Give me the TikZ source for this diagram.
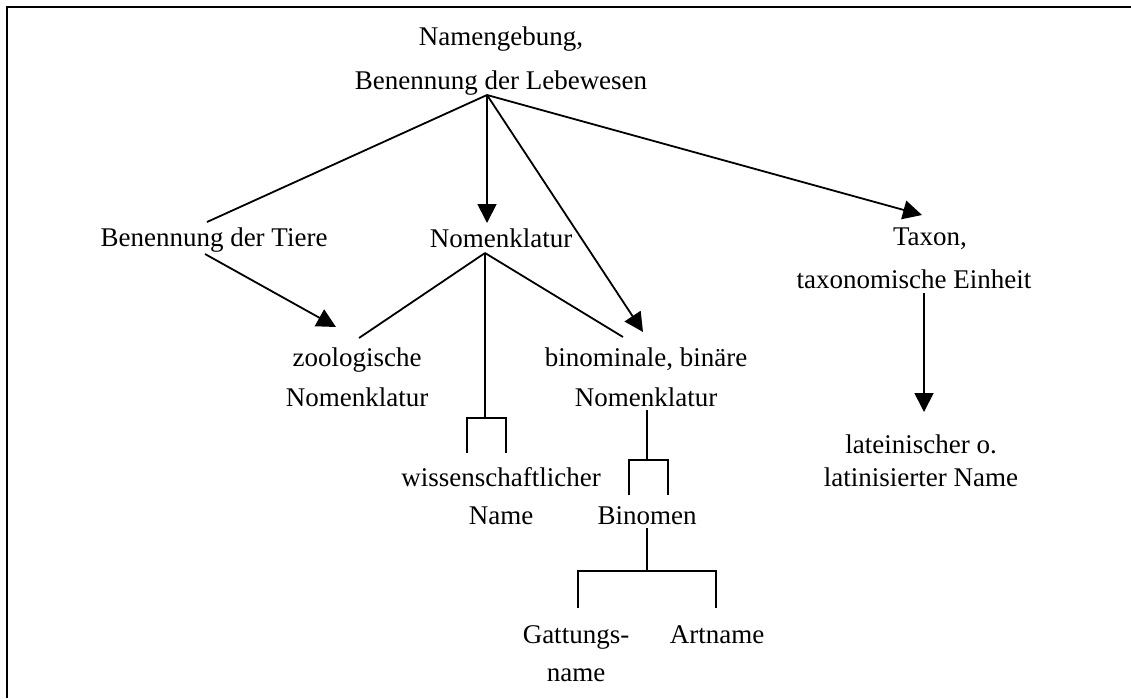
\documentclass[tikz,border=0pt]{standalone}
\usepackage{fontspec}
\setmainfont{Liberation Serif}
\usetikzlibrary{arrows.meta}
\begin{document}
\begin{tikzpicture}[x=1pt,y=-1pt,
  lbl/.style={align=center,inner sep=0pt,font=\fontsize{27}{42}\selectfont},
  conn/.style={line width=1.8pt},
  arr/.style={conn,-{Triangle[length=19pt,width=19pt]}}]
\useasboundingbox (0,0) rectangle (1131,698);
\draw[line width=2.2pt] (1131,7) -- (7,7) -- (7,698);

% labels
\node[lbl,font=\fontsize{27}{44}\selectfont] (top) at (501,61) {Namengebung,\\Benennung der Lebewesen};
\node[lbl] (tiere) at (214,240) {Benennung der Tiere};
\node[lbl] (nomen) at (501,238) {Nomenklatur};
\node[lbl,font=\fontsize{27}{43}\selectfont] (taxon) at (914,258) {\hspace*{32pt}Taxon,\\taxonomische Einheit};
\node[lbl,font=\fontsize{27}{40}\selectfont] (zoo) at (357,377) {zoologische\\Nomenklatur};
\node[lbl,font=\fontsize{27}{40}\selectfont] (binom) at (646,377) {binominale, binäre\\Nomenklatur};
\node[lbl,font=\fontsize{27}{38}\selectfont] (wiss) at (501,496) {wissenschaftlicher\\Name};
\node[lbl] (binomen) at (647,516) {Binomen};
\node[lbl,font=\fontsize{27}{33}\selectfont] (latein) at (921,461) {lateinischer o.\\latinisierter Name};
\node[lbl,font=\fontsize{27}{38}\selectfont] (gatt) at (576,654) {Gattungs-\\name};
\node[lbl] (art) at (717,635) {Artname};

% connector points
\coordinate (apex) at (487,95);
\coordinate (tieIn) at (207,222);
\coordinate (tieOut) at (205,254);
\coordinate (zooTip) at (336,327);
\coordinate (zooEnd) at (359,338);
\coordinate (nomTip) at (487,223);
\coordinate (nomOut) at (485,253);
\coordinate (binEnd) at (623,337);
\coordinate (binTip) at (643,332);
\coordinate (taxTip) at (922,215);
\coordinate (taxOut) at (924,293);
\coordinate (latTip) at (924,412);
\coordinate (wj) at (485,418);
\coordinate (wl) at (467,453);
\coordinate (wr) at (506,453);
\coordinate (bOut) at (647,410);
\coordinate (bj) at (647,460);
\coordinate (bl) at (629,495);
\coordinate (br) at (668,495);
\coordinate (nOut) at (647,528);
\coordinate (nj) at (647,571);
\coordinate (gl) at (578,608);
\coordinate (ar) at (716,608);

% connectors
\draw[conn] (apex) -- (tieIn);
\draw[arr] (apex) -- (nomTip);
\draw[arr] (apex) -- (binTip);
\draw[arr] (apex) -- (taxTip);
\draw[arr] (tieOut) -- (zooTip);
\draw[conn] (nomOut) -- (zooEnd);
\draw[conn] (nomOut) -- (binEnd);
\draw[conn] (nomOut) -- (wj);
\draw[conn] (wl) |- (wj) -| (wr);
\draw[arr] (taxOut) -- (latTip);
\draw[conn] (bOut) -- (bj);
\draw[conn] (bl) |- (bj) -| (br);
\draw[conn] (nOut) -- (nj);
\draw[conn] (gl) |- (nj) -| (ar);
\end{tikzpicture}
\end{document}
